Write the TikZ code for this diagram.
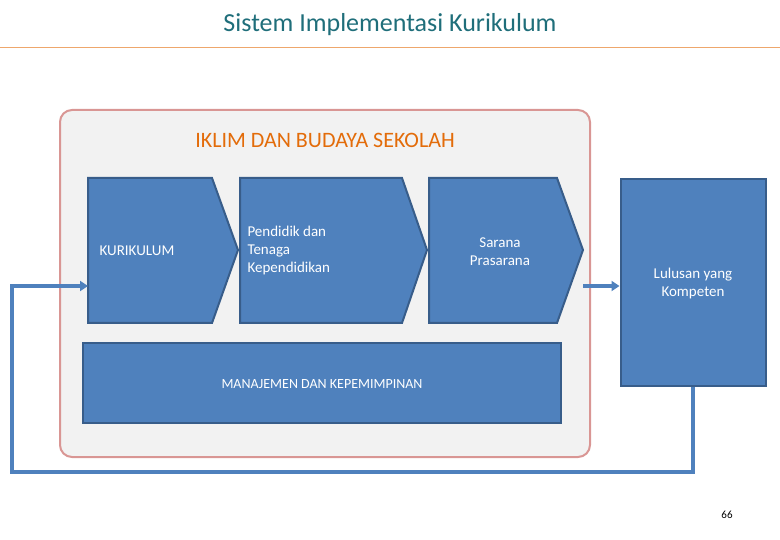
\documentclass[tikz,border=0pt]{standalone}
\usepackage{fontspec}
\setmainfont{Carlito}
\usetikzlibrary{arrows.meta}
\definecolor{blu}{HTML}{4F81BD}
\definecolor{bld}{HTML}{385D8A}
\definecolor{teal}{HTML}{1F6E7A}
\definecolor{org}{HTML}{E36C0A}
\definecolor{pnk}{HTML}{D99694}
\begin{document}
\begin{tikzpicture}[x=1pt,y=-1pt,
  shp/.style={fill=blu,draw=bld,line width=2pt,line join=miter},
  wt/.style={text=white,font=\fontsize{15}{18}\selectfont,align=left},
  conn/.style={draw=blu,line width=4pt,-{Triangle[length=8pt,width=10pt]}}]
\useasboundingbox (0,0) rectangle (780,540);
\node[text=teal,font=\fontsize{26}{30}\selectfont] (title) at (390,25) {Sistem Implementasi Kurikulum};
\draw[draw=org!60,line width=0.8pt] (0,47) -- (780,47);
\draw[fill=black!5,draw=pnk,line width=2pt,rounded corners=12pt] (60,110) rectangle (590,457);
\node[text=org,font=\fontsize{22}{26}\selectfont] (iklim) at (325,140) {IKLIM DAN BUDAYA SEKOLAH};
\draw[shp] (88,178) -- (212,178) -- (238,250) -- (212,323) -- (88,323) -- cycle;
\draw[shp] (240,178) -- (402,178) -- (427,250) -- (402,323) -- (240,323) -- cycle;
\draw[shp] (429,178) -- (557,178) -- (583,250) -- (557,323) -- (429,323) -- cycle;
\node[wt,anchor=west] (kur) at (96,251) {KURIKULUM};
\node[wt,anchor=west] (pen) at (244,251) {Pendidik dan\\Tenaga\\Kependidikan};
\node[wt,align=center] (sar) at (500,252) {Sarana\\Prasarana};
\node[shp,minimum width=145pt,minimum height=207pt] (lul) at (693,283) {};
\node[wt,align=center] at (693,284) {Lulusan yang\\Kompeten};
\node[shp,minimum width=478pt,minimum height=79pt] (man) at (322,383) {};
\node[wt,font=\fontsize{14}{17}\selectfont] at (322,384) {MANAJEMEN DAN KEPEMIMPINAN};
\coordinate (c3) at (583,286);
\coordinate (k) at (88,286);
\draw[conn] (c3) -- (lul.west |- c3);
\draw[conn] (lul.south) -- (693,472) -- (12,472) -- (12,286) -- (k);
\node[font=\fontsize{11}{13}\selectfont] (pg) at (727,515) {66};
\end{tikzpicture}
\end{document}
